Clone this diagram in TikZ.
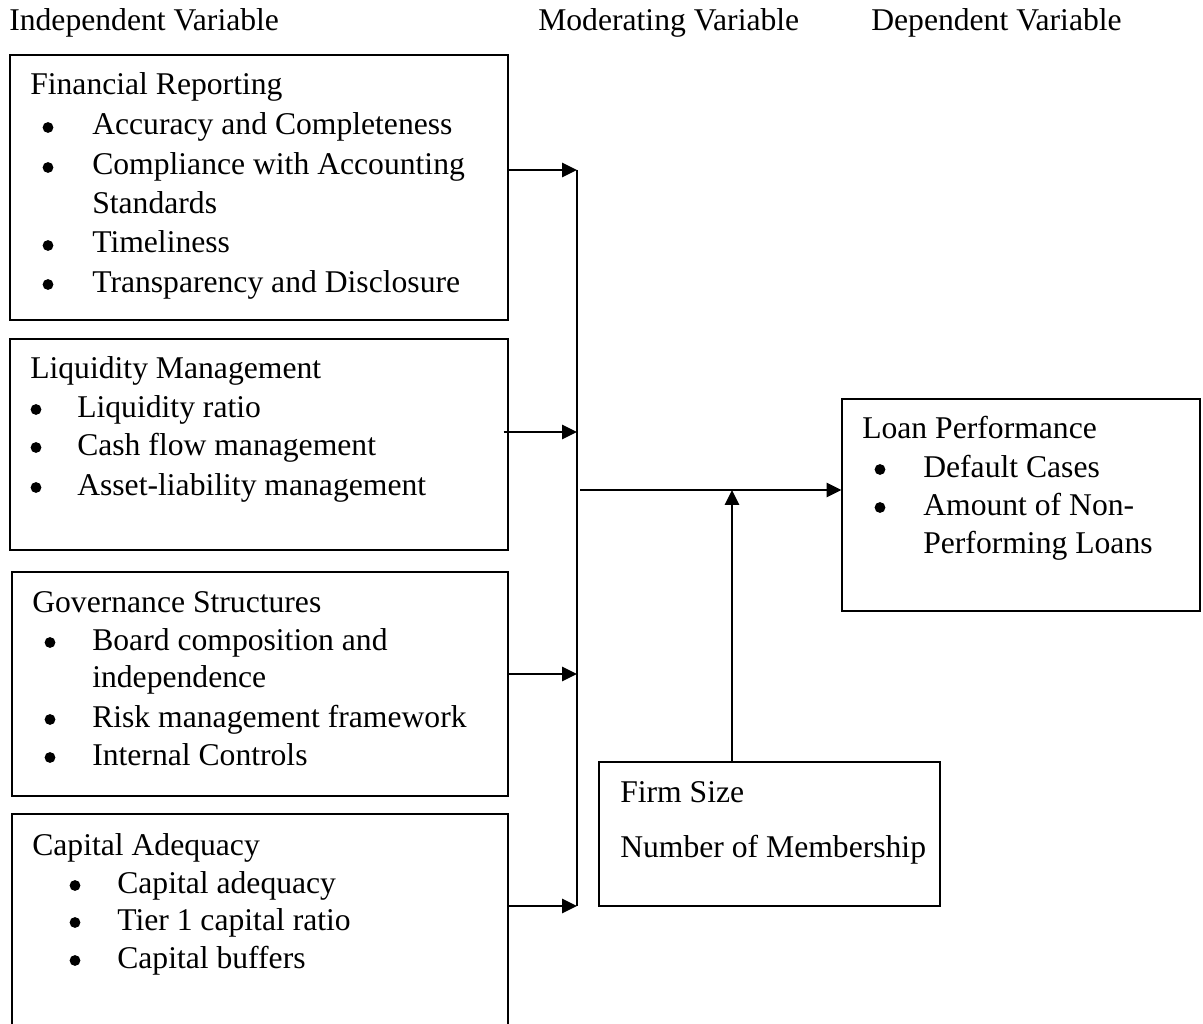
\documentclass[tikz,border=0pt]{standalone}
\usepackage{fontspec}
\setmainfont{Liberation Serif}
\usetikzlibrary{arrows.meta,fit}

\begin{document}
\begin{tikzpicture}[x=0.025cm,y=-0.025cm,
  font=\fontsize{22.5}{28}\selectfont,
  frame/.style={draw,line width=0.8pt,inner sep=0pt},
  lbl/.style={anchor=base west,inner sep=0pt},
  bul/.style={circle,fill,inner sep=0pt,minimum size=0.27cm},
  feed/.style={line width=1.5pt,-{Triangle[length=10.5pt,width=10pt]}}]
\useasboundingbox (0,0) rectangle (1203,1024);
% headings
\node[lbl] (h-ind) at (9,31) {Independent Variable};
\node[lbl] (h-mod) at (538,31) {Moderating Variable};
\node[lbl] (h-dep) at (871,31) {Dependent Variable};
% boxes
\node[frame,fit={(10,55) (508,320)}] (fin) {};
\node[frame,fit={(10,339) (508,550)}] (liq) {};
\node[frame,fit={(12,572) (508,796)}] (gov) {};
\node[frame,fit={(12,814) (508,1040)}] (cap) {};
\node[frame,fit={(842,399) (1200,611)}] (loan) {};
\node[frame,fit={(599,762) (940,906)}] (firm) {};
% financial reporting
\node[lbl] (fin-t) at (30,95) {Financial Reporting};
\foreach \txt/\yy [count=\i] in {Accuracy and Completeness/135,
    Compliance with Accounting/175, Timeliness/253, Transparency and Disclosure/292}
  {\node[bul] (fin-b\i) at (48,\yy-7.5) {};
   \node[lbl] (fin-\i) at (92,\yy) {\txt};}
\node[lbl] (fin-c) at (92,214) {Standards};
% liquidity management
\node[lbl] (liq-t) at (30,378) {Liquidity Management};
\foreach \txt/\yy [count=\i] in {Liquidity ratio/417, Cash flow management/455,
    Asset-liability management/495}
  {\node[bul] (liq-b\i) at (36,\yy-7.5) {};
   \node[lbl] (liq-\i) at (77,\yy) {\txt};}
% governance structures
\node[lbl] (gov-t) at (32,612) {Governance Structures};
\foreach \txt/\yy [count=\i] in {Board composition and/650,
    Risk management framework/727, Internal Controls/765}
  {\node[bul] (gov-b\i) at (50,\yy-7.5) {};
   \node[lbl] (gov-\i) at (92,\yy) {\txt};}
\node[lbl] (gov-c) at (92,687) {independence};
% capital adequacy
\node[lbl] (cap-t) at (32,855) {Capital Adequacy};
\foreach \txt/\yy [count=\i] in {Capital adequacy/893, Tier 1 capital ratio/930,
    Capital buffers/968}
  {\node[bul] (cap-b\i) at (75,\yy-7.5) {};
   \node[lbl] (cap-\i) at (117,\yy) {\txt};}
% loan performance
\node[lbl] (loan-t) at (862,438) {Loan Performance};
\foreach \txt/\yy [count=\i] in {Default Cases/477, Amount of Non-/515}
  {\node[bul] (loan-b\i) at (880,\yy-7.5) {};
   \node[lbl] (loan-\i) at (923,\yy) {\txt};}
\node[lbl] (loan-c) at (923,553) {Performing Loans};
% firm size
\node[lbl] (firm-t) at (620,802) {Firm Size};
\node[lbl] (firm-1) at (620,857) {Number of Membership};
% connectors
\coordinate (bus-top) at (577,170);
\coordinate (bus-bot) at (577,906);
\coordinate (j2) at (577,432);
\coordinate (j3) at (577,674);
\coordinate (mid) at (580,490);
\coordinate (meet) at (732,490);
\draw[line width=1.2pt] (bus-top) -- (bus-bot);
\draw[feed] (fin.east |- bus-top) -- (bus-top);
\draw[feed] ([xshift=-0.125cm]liq.east |- j2) -- (j2);
\draw[feed] (gov.east |- j3) -- (j3);
\draw[feed] (cap.east |- bus-bot) -- (bus-bot);
\draw[feed] (mid) -- (loan.west |- mid);
\draw[feed] (firm.north -| meet) -- (meet);
\end{tikzpicture}
\end{document}
